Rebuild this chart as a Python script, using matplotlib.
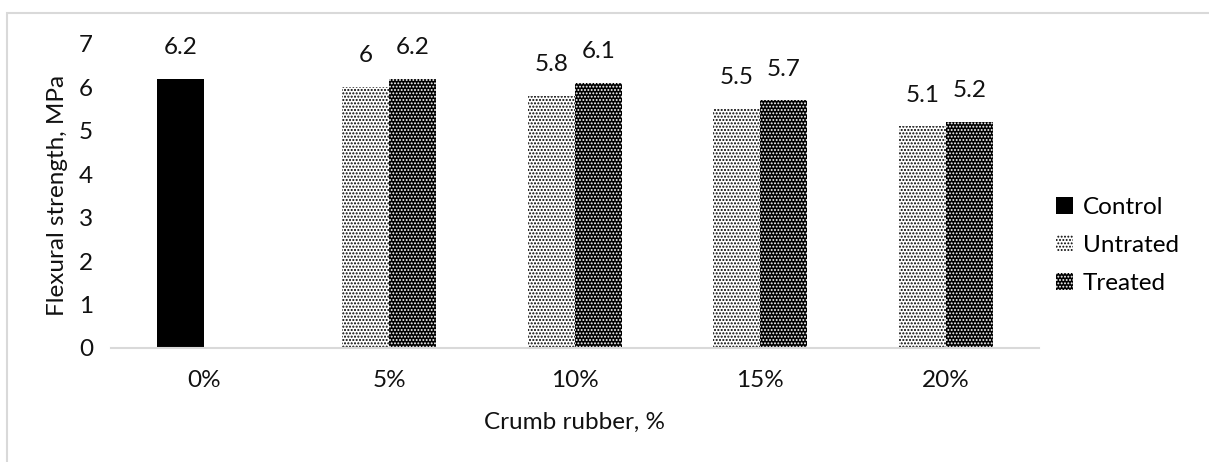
import matplotlib.pyplot as plt
from matplotlib.patches import Rectangle
import numpy as np

plt.rcParams['font.family'] = ['Lato', 'DejaVu Sans']

categories = ['0%', '5%', '10%', '15%', '20%']
control = [6.2, None, None, None, None]
untreated = [None, 6.0, 5.8, 5.5, 5.1]
treated = [None, 6.2, 6.1, 5.7, 5.2]

fig = plt.figure(figsize=(12.09, 4.62), dpi=100)
ax = fig.add_axes([0.0918, 0.2468, 0.7672, 0.6582])

# light gray frame (cropped on the right and bottom)
fig.patches.append(Rectangle((7 / 1209, -0.1), 1.2, 1 - 13 / 462 + 0.1,
                             transform=fig.transFigure, fill=False,
                             edgecolor='#d9d9d9', linewidth=1.5))

ind = np.arange(len(categories))
width = 0.253

def vals(series):
    return [np.nan if v is None else v for v in series]

b_ctrl = ax.bar(ind - width / 2, vals(control), width, color='black',
                label='Control', linewidth=0)
plt.rcParams['hatch.linewidth'] = 1.0
b_untr = ax.bar(ind - width / 2, vals(untreated), width, facecolor='white',
                edgecolor='black', hatch='.....', linewidth=0, label='Untrated')
plt.rcParams['hatch.linewidth'] = 0.9
b_trt = ax.bar(ind + width / 2, vals(treated), width, facecolor='black',
               edgecolor='white', hatch='.....', linewidth=0, label='Treated')

for bars, series in [(b_ctrl, control), (b_untr, untreated), (b_trt, treated)]:
    for rect, v in zip(bars, series):
        if v is None:
            continue
        txt = '%g' % v
        ax.annotate(txt, (rect.get_x() + rect.get_width() / 2, v),
                    xytext=(0, 15), textcoords='offset points',
                    ha='center', va='bottom', fontsize=17.5, color='#111111')

ax.set_xlim(-0.5, len(categories) - 0.5)
ax.set_ylim(0, 7)
ax.set_yticks(range(0, 8))
ax.set_xticks(ind)
ax.set_xticklabels(categories)
ax.tick_params(length=0, labelsize=17.5, colors='#111111')
ax.tick_params(axis='y', pad=13)
ax.tick_params(axis='x', pad=16)
for s in ['top', 'right', 'left']:
    ax.spines[s].set_visible(False)
ax.spines['bottom'].set_color('#d9d9d9')
ax.spines['bottom'].set_linewidth(1.5)

ax.set_ylabel('Flexural strength, MPa', fontsize=17.5, labelpad=8, color='#111111')
ax.set_xlabel('Crumb rubber, %', fontsize=17.5, labelpad=15, color='#111111')

ax.legend(loc='center left', bbox_to_anchor=(0.995, 0.336), frameon=False,
          fontsize=17.5, handlelength=0.7, handleheight=0.7, handletextpad=0.4,
          labelspacing=0.7)

plt.savefig('out.png', dpi=100)
